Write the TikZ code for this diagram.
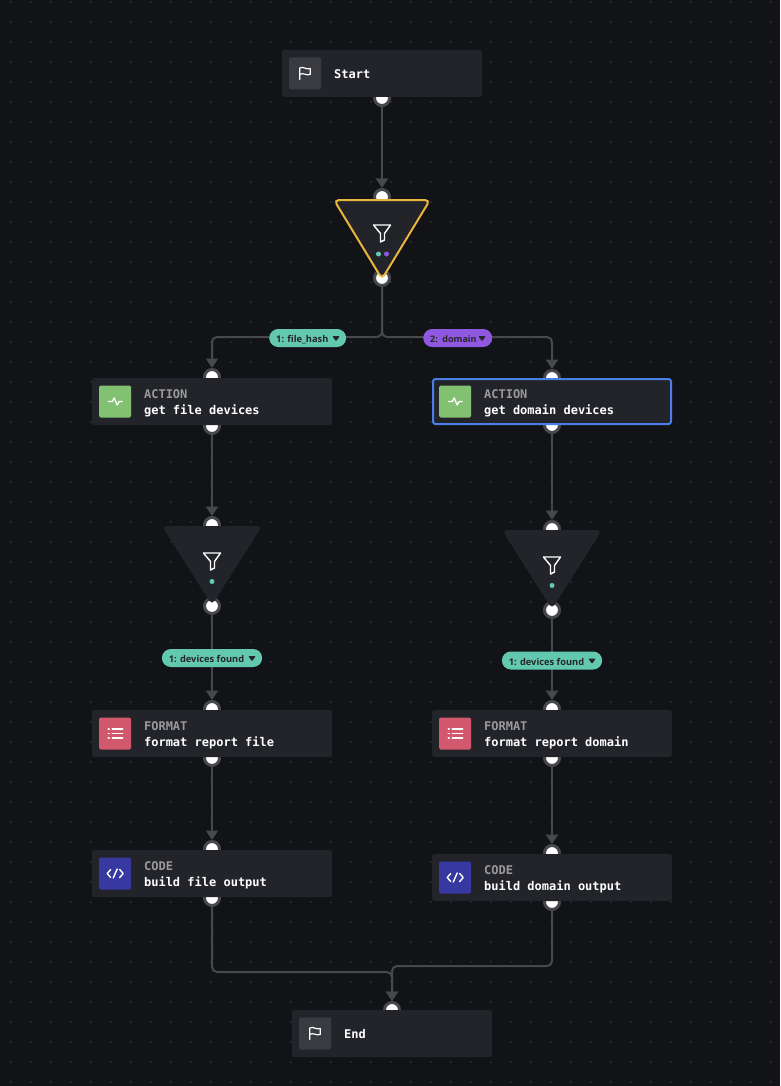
\documentclass[tikz,border=0pt]{standalone}
\usepackage{fontspec}
\setsansfont{Open Sans}
\setmonofont{DejaVu Sans Mono}
\usetikzlibrary{positioning,arrows.meta,calc,backgrounds,shapes.geometric}
\definecolor{canvas}{HTML}{111316}
\definecolor{griddot}{HTML}{3A3C41}
\definecolor{panel}{HTML}{222429}
\definecolor{wire}{HTML}{46484E}
\definecolor{kindgray}{HTML}{9A9A9A}
\definecolor{flaggray}{HTML}{3A3B40}
\definecolor{actgreen}{HTML}{83C172}
\definecolor{fmtred}{HTML}{D2596D}
\definecolor{codeblue}{HTML}{3739A0}
\definecolor{teal}{HTML}{62C9AE}
\definecolor{violet}{HTML}{9058E0}
\definecolor{amber}{HTML}{E8B63A}
\definecolor{select}{HTML}{4A7FE8}
\newcommand{\flagicon}[1]{\draw[glyph, line width=1.2pt, shift={(#1)}] (-5.5,6) -- (-5.5,-5.5) .. controls (-2,-7.5) and (1,-3.5) .. (5,-5) -- (5,1) .. controls (1,2.5) and (-2,-1.5) .. (-5.5,1);}
\newcommand{\pulseicon}[1]{\draw[glyph, shift={(#1)}] (-7,0) -- (-3,0) -- (-1,-3.5) -- (2,3.5) -- (4,0) -- (7,0);}
\newcommand{\listicon}[1]{\draw[glyph, shift={(#1)}] (-3,-4.6) -- (7.5,-4.6) (-3,0) -- (7.5,0) (-3,4.6) -- (7.5,4.6) (-7,-4.6) -- (-6,-4.6) (-7,0) -- (-6,0) (-7,4.6) -- (-6,4.6);}
\newcommand{\codeicon}[1]{\draw[glyph, shift={(#1)}] (-4.5,-4) -- (-8,0) -- (-4.5,4) (-2,4.5) -- (2,-4.5) (4.5,-4) -- (8,0) -- (4.5,4);}
\newcommand{\funnelicon}[1]{\draw[glyph, shift={(#1)}] (-8.5,-8) -- (8.5,-8) -- (2.5,0.5) -- (2.5,7) -- (-1.5,9) -- (-1.5,0.5) -- cycle;}
\newcommand{\caret}[1]{\fill[chipink, rounded corners=0.8pt, shift={(#1.east)}] (-14,-1.8) -- (-6.6,-1.8) -- (-10.3,3.2) -- cycle;}

\begin{document}
\begin{tikzpicture}[
    x=1pt, y=-1pt,
    box/.style={rectangle, fill=panel, rounded corners=2.5pt, minimum width=240pt,
                minimum height=47pt, outer sep=0pt, inner sep=0pt},
    icon/.style={rectangle, rounded corners=1.5pt, minimum size=32pt, inner sep=0pt},
    boxtext/.style={inner sep=0pt, align=left, text=white, yshift=-1.3pt,
                    font=\fontsize{12}{16}\selectfont\ttfamily\bfseries},
    filter/.style={isosceles triangle, isosceles triangle stretches, shape border rotate=270,
                   minimum width=100pt, minimum height=79pt, inner sep=0pt, outer sep=0pt,
                   fill=panel, rounded corners=5pt, anchor=apex},
    port/.style={circle, fill=white, draw=wire, line width=3pt, minimum size=15pt, inner sep=0pt},
    conn/.style={draw=wire, line width=2pt, rounded corners=5pt,
                 -{Triangle[length=9.5pt,width=12pt]}},
    chip/.style={rectangle, rounded corners=9pt, minimum height=18pt, inner ysep=0pt, inner xsep=7pt,
                 text height=9pt, text depth=0pt, text=chipink,
                 font=\fontsize{9.3}{10}\selectfont\sffamily\bfseries},
    pip/.style={circle, minimum size=5pt, inner sep=0pt},
    glyph/.style={draw=white, line width=1.4pt, line join=round, line cap=round}
  ]
  \useasboundingbox (0,0) rectangle (780,1086);
  \colorlet{chipink}{black!85}
  \begin{scope}[on background layer]
    \fill[canvas] (0,0) rectangle (780,1086);
    \foreach \x in {11,31,...,771}
      \foreach \y in {2,22,...,1082}
        \fill[griddot] (\x,\y) circle (0.8pt);
  \end{scope}

  % ----- Boxes -----
  \node[box, minimum width=200pt] (start) at (382,73.5) {};
  \node[box] (get1) at (212,401.5) {};
  \node[box, draw=select, line width=2pt, minimum width=238pt, minimum height=45pt] (get2) at (552,401.5) {};
  \node[box, below=285pt of get1] (fmt1) {};
  \node[box, right=100pt of fmt1] (fmt2) {};
  \node[box, below=93pt of fmt1]  (code1) {};
  \node[box, below=97pt of fmt2]  (code2) {};
  \node[box, minimum width=200pt] (finish) at (392,1033.5) {};

  % ----- Filters -----
  \node[filter, draw=amber, line width=2pt, minimum width=96pt, minimum height=79pt] (flt0) at (382,279) {};
  \node[filter] (flt1) at (212,605) {};
  \node[filter] (flt2) at (552,609) {};
  \node[pip, fill=teal]   (pip0a) at (378.5,254) {};
  \node[pip, fill=violet] (pip0b) at (386.5,254) {};
  \node[pip, fill=teal]   (pip1)  at (212,581.5) {};
  \node[pip, fill=teal]   (pip2)  at (552,585.5) {};
  \funnelicon{382,233}
  \funnelicon{212,561}
  \funnelicon{552,565}

  % ----- Icons and texts -----
  \node[icon, fill=flaggray,  right=7pt of start.west]  (ic0) {};
  \node[icon, fill=actgreen,  right=7pt of get1.west]   (ic1) {};
  \node[icon, fill=actgreen,  right=6pt of get2.west]   (ic2) {};
  \node[icon, fill=fmtred,    right=7pt of fmt1.west]   (ic3) {};
  \node[icon, fill=fmtred,    right=7pt of fmt2.west]   (ic4) {};
  \node[icon, fill=codeblue,  right=7pt of code1.west]  (ic5) {};
  \node[icon, fill=codeblue,  right=7pt of code2.west]  (ic6) {};
  \node[icon, fill=flaggray,  right=7pt of finish.west] (ic7) {};
  \flagicon{ic0.center}
  \pulseicon{ic1.center}
  \pulseicon{ic2.center}
  \listicon{ic3.center}
  \listicon{ic4.center}
  \codeicon{ic5.center}
  \codeicon{ic6.center}
  \flagicon{ic7.center}
  \node[boxtext, yshift=0.8pt, right=12.5pt of ic0.east] (txt0) {Start};
  \node[boxtext, right=12.5pt of ic1.east] (txt1) {\textcolor{kindgray}{ACTION}\\get file devices};
  \node[boxtext, right=12.5pt of ic2.east] (txt2) {\textcolor{kindgray}{ACTION}\\get domain devices};
  \node[boxtext, right=12.5pt of ic3.east] (txt3) {\textcolor{kindgray}{FORMAT}\\format report file};
  \node[boxtext, right=12.5pt of ic4.east] (txt4) {\textcolor{kindgray}{FORMAT}\\format report domain};
  \node[boxtext, right=12.5pt of ic5.east] (txt5) {\textcolor{kindgray}{CODE}\\build file output};
  \node[boxtext, right=12.5pt of ic6.east] (txt6) {\textcolor{kindgray}{CODE}\\build domain output};
  \node[boxtext, yshift=0.8pt, right=12.5pt of ic7.east] (txt7) {End};

  % ----- Ports sit under the boxes -----
  \begin{scope}[on background layer]
    \node[port] (p0out) at ($(start.south)+(0,1)$) {};
    \node[port] (f0in)  at (382,197) {};
    \node[port] (f0out) at (382,278) {};
    \node[port] (g1in)  at ($(get1.north)+(0,-1)$) {};
    \node[port] (g1out) at ($(get1.south)+(0,1)$) {};
    \node[port] (g2in)  at ($(get2.north)+(0,-1)$) {};
    \node[port] (g2out) at ($(get2.south)+(0,1)$) {};
    \node[port] (f1in)  at (212,525) {};
    \node[port] (f1out) at (212,606) {};
    \node[port] (f2in)  at (552,529) {};
    \node[port] (f2out) at (552,610) {};
    \node[port] (m1in)  at ($(fmt1.north)+(0,-1)$) {};
    \node[port] (m1out) at ($(fmt1.south)+(0,1)$) {};
    \node[port] (m2in)  at ($(fmt2.north)+(0,-1)$) {};
    \node[port] (m2out) at ($(fmt2.south)+(0,1)$) {};
    \node[port] (c1in)  at ($(code1.north)+(0,-1)$) {};
    \node[port] (c1out) at ($(code1.south)+(0,1)$) {};
    \node[port] (c2in)  at ($(code2.north)+(0,-1)$) {};
    \node[port] (c2out) at ($(code2.south)+(0,1)$) {};
    \node[port] (endin) at (finish.north) {};
  \end{scope}

  % ----- Connectors -----
  \coordinate (fork) at (382,337);
  \coordinate (join1) at (212,972);
  \coordinate (join2) at (552,966);
  \draw[conn] (p0out.south) -- (f0in.north);
  \draw[conn] (f0out.south) -- (fork) -| (g1in.north);
  \draw[conn] (f0out.south) -- (fork) -| (g2in.north);
  \draw[conn] (g1out.south) -- (f1in.north);
  \draw[conn] (g2out.south) -- (f2in.north);
  \draw[conn] (f1out.south) -- (m1in.north);
  \draw[conn] (f2out.south) -- (m2in.north);
  \draw[conn] (m1out.south) -- (c1in.north);
  \draw[conn] (m2out.south) -- (c2in.north);
  \draw[conn] (c1out.south) -- (join1) -| (endin.north);
  \draw[conn] (c2out.south) -- (join2) -| (endin.north);

  % ----- Chips -----
  \node[chip, fill=teal, anchor=west]   (chip1) at (269,338) {1: file\_hash\hspace*{10.7pt}};
  \node[chip, fill=violet, anchor=west, minimum width=69pt, align=left, text width=55pt,
        font=\fontsize{9}{10}\selectfont\sffamily\bfseries] (chip2) at (423,338) {2: domain};
  \node[chip, fill=teal]                (chip3) at (212,658) {1: devices found\hspace*{11pt}};
  \node[chip, fill=teal]                (chip4) at (552,660.5) {1: devices found\hspace*{11pt}};
  \caret{chip1}
  \caret{chip2}
  \caret{chip3}
  \caret{chip4}
\end{tikzpicture}
\end{document}
